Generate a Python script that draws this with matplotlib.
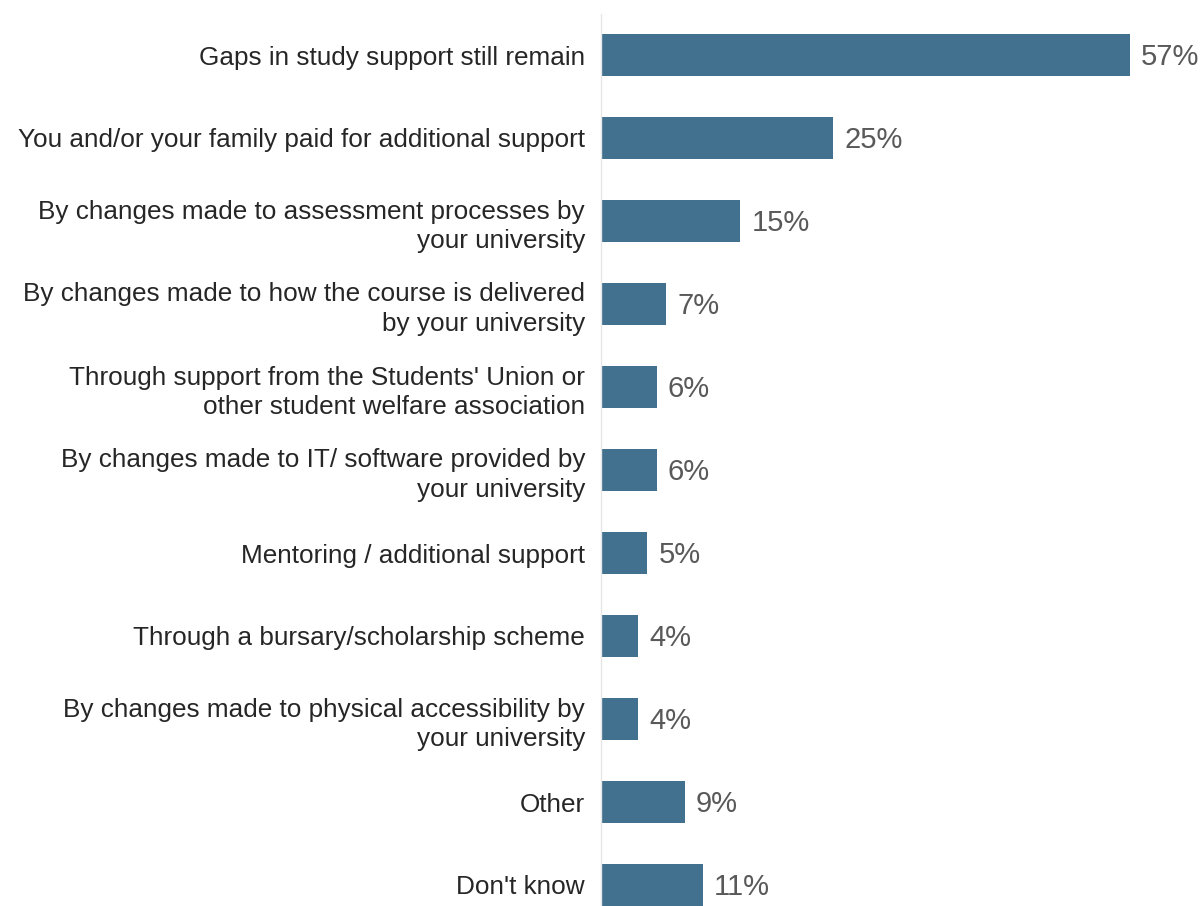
import matplotlib
matplotlib.use("Agg")
import matplotlib.pyplot as plt

categories = [
    "Gaps in study support still remain",
    "You and/or your family paid for additional support",
    "By changes made to assessment processes by\nyour university",
    "By changes made to how the course is delivered\nby your university",
    "Through support from the Students' Union or\nother student welfare association",
    "By changes made to IT/ software provided by\nyour university",
    "Mentoring / additional support",
    "Through a bursary/scholarship scheme",
    "By changes made to physical accessibility by\nyour university",
    "Other",
    "Don't know",
]
values = [57, 25, 15, 7, 6, 6, 5, 4, 4, 9, 11]
value_labels = ["57%", "25%", "15%", "7%", "6%", "6%", "5%", "4%", "4%", "9%", "11%"]

plt.rcParams['font.family'] = ['Liberation Sans', 'DejaVu Sans']

W, H = 1204, 906
fig = plt.figure(figsize=(W / 100, H / 100), dpi=100)
left = 601 / W
top_px = 13.5
bottom_px = 926.5
ax = fig.add_axes([left, 1 - bottom_px / H, 1 - left, (bottom_px - top_px) / H])

ypos = list(range(len(categories)))
ax.barh(ypos, values, height=0.5, color="#41718F")
ax.set_ylim(len(categories) - 0.5, -0.5)
ax.set_xlim(0, (W - 601) / 9.28)

for y, v, lab in zip(ypos, values, value_labels):
    ax.text(v + 1.2, y + 0.02, lab, va="center", ha="left", fontsize=21, color="#595959")

ax.set_yticks(ypos)
ax.set_yticklabels(categories, fontsize=18.8, color="#262626", linespacing=1.3)
for t in ax.get_yticklabels():
    t.set_horizontalalignment("right")
ax.tick_params(axis="y", length=0, pad=11.5)
ax.set_xticks([])
for s in ["top", "right", "bottom"]:
    ax.spines[s].set_visible(False)
ax.spines["left"].set_color("#E6E6E6")
ax.spines["left"].set_linewidth(1)

fig.savefig("out.png", dpi=100)
